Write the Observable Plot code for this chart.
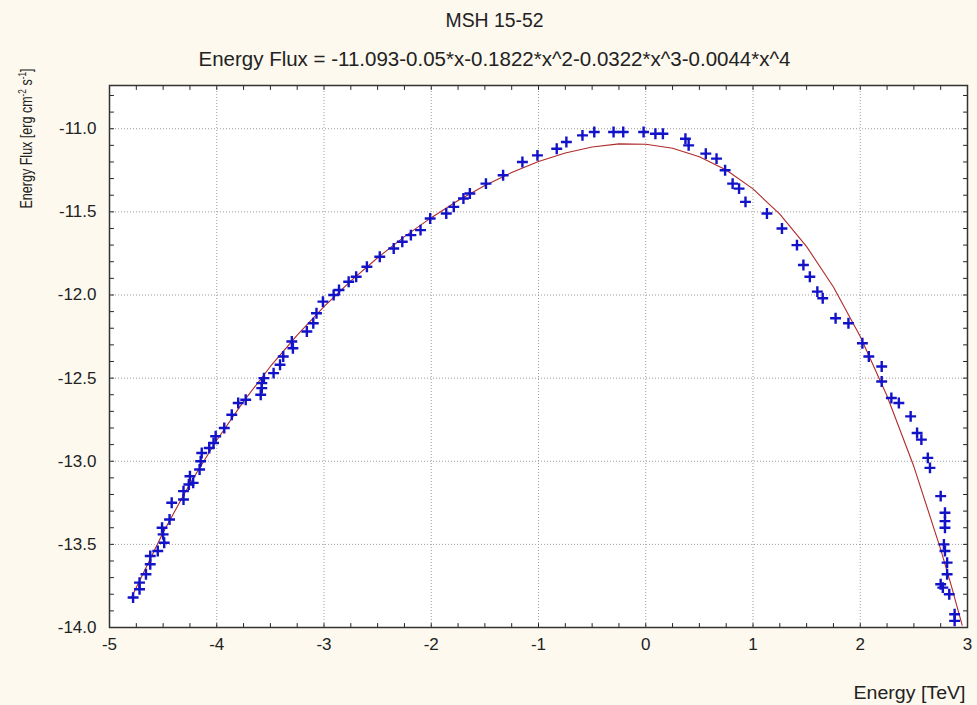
<!DOCTYPE html>
<html><head><meta charset="utf-8">
<script src="https://cdn.jsdelivr.net/npm/d3@7"></script>
<script src="https://cdn.jsdelivr.net/npm/@observablehq/plot@0.6"></script>
<style>
html,body{margin:0;padding:0;background:#fdf9ee;}
#chart svg{display:block;}
</style></head><body><div id="chart"></div>
<script>
const chartTitle = "MSH 15-52";
const chartSubtitle = "Energy Flux = -11.093-0.05*x-0.1822*x^2-0.0322*x^3-0.0044*x^4";
const xLabel = "Energy [TeV]";
const yLabelParts = ["Energy Flux [erg cm", "-2", " s", "-1", "]"]; // odd entries are superscripts
const yLabel = yLabelParts.join("");

const energy = [-4.78,-4.72,-4.72,-4.66,-4.62,-4.62,-4.55,-4.51,-4.50,-4.49,-4.44,-4.42,-4.31,-4.31,-4.26,-4.25,-4.22,-4.16,-4.15,-4.14,-4.07,-4.03,-4.01,-3.93,-3.86,-3.80,-3.73,-3.59,-3.58,-3.58,-3.56,-3.47,-3.41,-3.38,-3.29,-3.30,-3.16,-3.10,-3.07,-3.01,-2.91,-2.86,-2.77,-2.70,-2.60,-2.48,-2.35,-2.27,-2.19,-2.10,-2.01,-1.86,-1.79,-1.70,-1.64,-1.49,-1.33,-1.15,-1.01,-0.83,-0.74,-0.59,-0.48,-0.30,-0.21,-0.02,0.09,0.16,0.37,0.40,0.56,0.66,0.74,0.81,0.87,0.93,1.13,1.27,1.41,1.47,1.53,1.60,1.65,1.77,1.89,2.02,2.08,2.20,2.20,2.29,2.36,2.47,2.53,2.57,2.63,2.65,2.75,2.79,2.79,2.79,2.78,2.79,2.81,2.81,2.75,2.77,2.83,2.88,2.88];
const flux = [-13.82,-13.77,-13.73,-13.68,-13.62,-13.57,-13.54,-13.40,-13.44,-13.49,-13.35,-13.25,-13.23,-13.18,-13.14,-13.09,-13.13,-13.05,-13.00,-12.95,-12.92,-12.89,-12.85,-12.80,-12.72,-12.65,-12.63,-12.60,-12.56,-12.53,-12.50,-12.47,-12.42,-12.37,-12.32,-12.28,-12.22,-12.17,-12.11,-12.04,-12.00,-11.97,-11.92,-11.89,-11.83,-11.77,-11.72,-11.68,-11.64,-11.61,-11.54,-11.51,-11.47,-11.42,-11.39,-11.33,-11.28,-11.20,-11.16,-11.12,-11.08,-11.04,-11.02,-11.02,-11.02,-11.02,-11.03,-11.03,-11.06,-11.10,-11.15,-11.18,-11.25,-11.33,-11.36,-11.44,-11.51,-11.60,-11.70,-11.82,-11.89,-11.98,-12.02,-12.14,-12.17,-12.29,-12.37,-12.43,-12.52,-12.62,-12.65,-12.73,-12.83,-12.87,-12.98,-13.04,-13.21,-13.31,-13.36,-13.40,-13.50,-13.54,-13.61,-13.68,-13.74,-13.76,-13.80,-13.92,-13.96];

// fitted curve as drawn (red line)
const fitEnergy = [-4.8,-4.5,-4.25,-4.0,-3.75,-3.5,-3.25,-3.0,-2.75,-2.5,-2.25,-2.0,-1.75,-1.5,-1.25,-1.0,-0.75,-0.5,-0.25,0,0.25,0.5,0.75,1.0,1.25,1.5,1.75,2.0,2.25,2.5,2.75,2.85,2.95];
const fitFlux = [-13.826,-13.428,-13.135,-12.874,-12.640,-12.430,-12.241,-12.070,-11.915,-11.776,-11.649,-11.535,-11.432,-11.342,-11.263,-11.197,-11.146,-11.110,-11.091,-11.093,-11.117,-11.168,-11.248,-11.362,-11.514,-11.709,-11.952,-12.250,-12.608,-13.032,-13.530,-13.751,-13.986];

const xTicks = [-5,-4,-3,-2,-1,0,1,2,3];
const xTickLabels = ["-5","-4","-3","-2","-1","0","1","2","3"];
const yTicks = [-14,-13.5,-13,-12.5,-12,-11.5,-11];
const yTickLabels = ["-14.0","-13.5","-13.0","-12.5","-12.0","-11.5","-11.0"];

const points = energy.map((e, i) => ({energy: e, flux: flux[i]}));
const fit = fitEnergy.map((e, i) => ({energy: e, flux: fitFlux[i]}));
const xMinor = d3.range(0, 33).map(i => -5 + i * 0.25);
const yMinor = d3.range(0, 33).map(i => -14 + i * 0.1);
const tickShape = {draw(ctx, l) { ctx.moveTo(0, 0); ctx.lineTo(0, -l); }};
const tickStyle = {length: 4, anchor: "start", shape: tickShape, stroke: "#222", strokeWidth: 1};

const W = 977, H = 705, mL = 109, mR = 10, mT = 85, mB = 78;
const frameCx = mL + (W - mL - mR) / 2, frameCy = mT + (H - mT - mB) / 2;
const font = "'Liberation Sans', Arial, sans-serif";

const chart = Plot.plot({
  width: W, height: H,
  marginLeft: mL, marginRight: mR, marginTop: mT, marginBottom: mB,
  style: {background: "transparent", fontFamily: font, fontSize: "17px", color: "#222"},
  x: {domain: [-5, 3]},
  y: {domain: [-14, -10.74]},
  marks: [
    Plot.frame({fill: "white", stroke: null}),
    Plot.gridX(xTicks, {stroke: "#9c9c9c", strokeOpacity: 1, strokeDasharray: "1,2"}),
    Plot.gridY(yTicks, {stroke: "#9c9c9c", strokeOpacity: 1, strokeDasharray: "1,2"}),
    Plot.vector(yMinor, {y: d => d, frameAnchor: "left", rotate: 90, ...tickStyle}),
    Plot.vector(yMinor, {y: d => d, frameAnchor: "right", rotate: -90, ...tickStyle}),
    Plot.vector(xMinor, {x: d => d, frameAnchor: "bottom", rotate: 0, ...tickStyle}),
    Plot.vector(xMinor, {x: d => d, frameAnchor: "top", rotate: 180, ...tickStyle}),
    Plot.axisX(xTicks, {tickSize: 0, tickPadding: 10, tickFormat: d => xTickLabels[xTicks.indexOf(d)], label: null, fontSize: 17, fill: "#222"}),
    Plot.axisY(yTicks, {tickSize: 0, tickPadding: 13, tickFormat: d => yTickLabels[yTicks.indexOf(d)], label: null, fontSize: 17, fill: "#222"}),
    Plot.line(fit, {x: "energy", y: "flux", stroke: "#b02a2a", strokeWidth: 1.1}),
    Plot.dot(points, {x: "energy", y: "flux", symbol: "plus", r: 3.6, stroke: "#1212c8", strokeWidth: 2.4}),
    Plot.frame({stroke: "#333", strokeWidth: 1.5}),
    Plot.text([chartTitle], {text: d => d, frameAnchor: "top", dx: 494 - frameCx, dy: 20 - mT, lineAnchor: "middle", fontSize: 20, fill: "#222"}),
    Plot.text([chartSubtitle], {text: d => d, frameAnchor: "top", dx: 494 - frameCx, dy: 59 - mT, lineAnchor: "middle", fontSize: 20.5, fill: "#222"}),
    Plot.text([yLabel], {text: d => d, frameAnchor: "left", textAnchor: "middle", rotate: -90, dx: 26 - mL, dy: 138 - frameCy, lineAnchor: "middle", fontSize: 16, fill: "#222"}),
    Plot.text([xLabel], {text: d => d, frameAnchor: "bottom-right", textAnchor: "end", dx: -2, dy: 66, lineAnchor: "middle", fontSize: 18, fill: "#222"})
  ]
});

// fine-tune text widths and superscripts
const fitWidths = new Map([[chartTitle, 98], [chartSubtitle, 592], [xLabel, 112]]);
chart.querySelectorAll("text").forEach(t => {
  const s = t.textContent;
  if (fitWidths.has(s)) {
    t.setAttribute("textLength", fitWidths.get(s));
    t.setAttribute("lengthAdjust", "spacingAndGlyphs");
  }
  if (s === yLabel) {
    while (t.firstChild) t.removeChild(t.firstChild);
    yLabelParts.forEach((p, i) => {
      const ts = document.createElementNS("http://www.w3.org/2000/svg", "tspan");
      ts.textContent = p;
      if (i % 2 === 1) { ts.setAttribute("dy", "-6"); ts.setAttribute("font-size", "10.5"); }
      else if (i > 0) { ts.setAttribute("dy", "6"); }
      t.appendChild(ts);
    });
    t.setAttribute("textLength", 140);
    t.setAttribute("lengthAdjust", "spacingAndGlyphs");
  }
});
document.getElementById("chart").appendChild(chart);
</script>
</body></html>
